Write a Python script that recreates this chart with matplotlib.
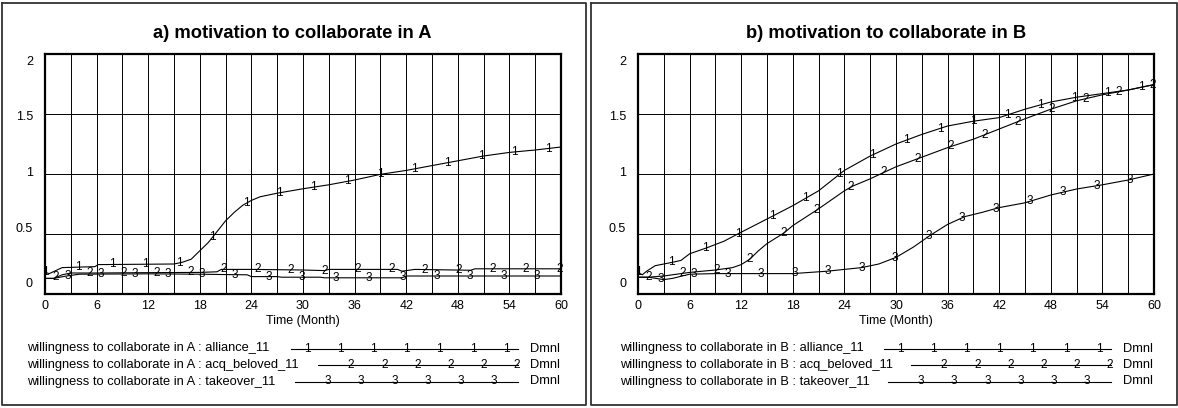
import numpy as np
import matplotlib.pyplot as plt

W, H = 1178, 408
plt.rcParams['font.family'] = ['Liberation Sans', 'DejaVu Sans']

# ---- data (time in months) ----
t_a1 = [0, 0.5, 2, 5.8, 6.2, 15, 16, 17, 18, 19, 20, 21, 22, 23, 24, 25, 27, 30, 33, 36, 39, 42, 45, 48, 51, 54, 57, 60]
a1 = [0.18, 0.17, 0.22, 0.228, 0.245, 0.25, 0.265, 0.29, 0.36, 0.43, 0.52, 0.61, 0.68, 0.74, 0.78, 0.81, 0.84, 0.877,
      0.91, 0.95, 0.997, 1.03, 1.07, 1.11, 1.15, 1.18, 1.20, 1.225]
t_a2 = [0, 1, 2, 3, 6, 12, 18, 20, 20.5, 24, 30, 32.5, 33, 41, 41.5, 43, 49.5, 50, 60]
a2 = [0.13, 0.13, 0.16, 0.175, 0.175, 0.178, 0.18, 0.185, 0.205, 0.205, 0.2, 0.195, 0.205, 0.205, 0.19, 0.205, 0.198,
      0.21, 0.21]
t_a3 = [0, 1, 2.5, 4, 12, 18, 21, 23.5, 24, 27, 27.5, 32, 32.5, 41.5, 42, 45, 60]
a3 = [0.13, 0.13, 0.15, 0.165, 0.168, 0.165, 0.162, 0.16, 0.145, 0.145, 0.14, 0.14, 0.135, 0.135, 0.15, 0.15, 0.15]

t_b1 = [0, 0.5, 1, 2, 4, 5, 6, 8, 10, 12, 15, 18, 21, 24, 27, 30, 33, 36, 39, 42, 45, 48, 51, 54, 57, 60]
b1 = [0.18, 0.16, 0.19, 0.236, 0.264, 0.28, 0.335, 0.385, 0.44, 0.515, 0.625, 0.736, 0.86, 1.03, 1.15, 1.25, 1.33,
      1.40, 1.44, 1.47, 1.54, 1.60, 1.64, 1.67, 1.70, 1.745]
t_b2 = [0, 1.2, 3, 6, 9, 11, 12, 13, 14, 15, 17, 18, 21, 24, 25, 27, 30, 33, 36, 39, 42, 45, 48, 51, 54, 57, 60]
b2 = [0.14, 0.14, 0.15, 0.18, 0.2, 0.22, 0.245, 0.29, 0.36, 0.42, 0.51, 0.57, 0.71, 0.86, 0.90, 0.96, 1.06, 1.14,
      1.22, 1.29, 1.375, 1.46, 1.54, 1.61, 1.66, 1.70, 1.745]
t_b3 = [0, 1.2, 3, 4, 6, 9, 18, 20, 22, 26, 28, 30, 32, 34, 36, 38, 40, 42, 45, 48, 51, 54, 57, 60]
b3 = [0.14, 0.14, 0.12, 0.13, 0.165, 0.17, 0.17, 0.18, 0.19, 0.22, 0.25, 0.305, 0.39, 0.49, 0.58, 0.645, 0.68, 0.72,
      0.76, 0.825, 0.875, 0.91, 0.95, 1.0]

titles = ['a) motivation to collaborate in A', 'b) motivation to collaborate in B']
regions = ['A', 'B']
scenarios = ['alliance_11', 'acq_beloved_11', 'takeover_11']
y_ticks = [0, 0.5, 1, 1.5, 2]
y_labels = ['0', '0.5', '1', '1.5', '2']
x_ticks = list(range(0, 61, 6))

panels = [
    [(t_a1, a1), (t_a2, a2), (t_a3, a3)],
    [(t_b1, b1), (t_b2, b2), (t_b3, b3)],
]

fig = plt.figure(figsize=(W / 100, H / 100), dpi=100)

# background axes in pixel coordinates for frames / legend
bg = fig.add_axes([0, 0, 1, 1])
bg.set_xlim(0, W)
bg.set_ylim(H, 0)
bg.axis('off')

frames = [(1.5, 3, 586, 405), (591, 3, 1176.5, 405)]
for x0, y0, x1, y1 in frames:
    bg.plot([x0, x1, x1, x0, x0], [y0, y0, y1, y1, y0], color='#333333', lw=1.3)

ax_left_px = [45, 638]
ax_w, ax_top, ax_bot = 516, 54, 294
title_x = [292, 886]

for p, series in enumerate(panels):
    lx = ax_left_px[p]
    ax = fig.add_axes([lx / W, 1 - ax_bot / H, ax_w / W, (ax_bot - ax_top) / H])
    ax.set_xlim(0, 60)
    ax.set_ylim(0, 2)
    ax.set_xticks(x_ticks)
    ax.set_xticks(range(3, 60, 6), minor=True)
    ax.set_yticks(y_ticks)
    ax.set_yticklabels([])
    ax.tick_params(which='both', length=0)
    ax.tick_params(axis='x', labelsize=9, pad=4)
    ax.grid(which='both', color='black', lw=0.7)
    for s in ax.spines.values():
        s.set_linewidth(1.6)
    ax.set_axisbelow(True)

    for k, (tt, vv) in enumerate(series):
        ax.plot(tt, vv, color='black', lw=0.8)
        mt = np.arange(1.3 * k, 60.01, 3.9)
        mv = np.interp(mt, tt, vv)
        for x, y in zip(mt, mv):
            ax.text(x, y, str(k + 1), fontsize=8.5, ha='center', va='center')

    # y tick labels (Vensim style, squeezed inside the axis range)
    for v, lab in zip(y_ticks, y_labels):
        ypx = 284 - v * 111
        bg.text(lx - 12, ypx, lab, fontsize=9, ha='right', va='center')

    bg.text(title_x[p], 34, titles[p], fontsize=13.2, fontweight='bold', ha='center', va='center')
    bg.text(lx + ax_w / 2, 321, 'Time (Month)', fontsize=9, ha='center', va='center')

    # legend
    rows_y = [348.5, 365, 381.5]
    line_start = [246, 273, 250]
    mark_start = [262, 306, 283]
    mark_n = [7, 6, 6]
    for k in range(3):
        y = rows_y[k]
        bg.text(lx - 18, y, f'willingness to collaborate in {regions[p]} : {scenarios[k]}',
                fontsize=9.3, ha='left', va='center')
        bg.plot([lx + line_start[k], lx + 473], [y, y], color='black', lw=0.8)
        for m in range(mark_n[k]):
            bg.text(lx + mark_start[k] + 33.2 * m, y, str(k + 1), fontsize=8.5, ha='center', va='center')
        bg.text(lx + 485, y, 'Dmnl', fontsize=9.3, ha='left', va='center')

fig.savefig('out.png', dpi=100)
